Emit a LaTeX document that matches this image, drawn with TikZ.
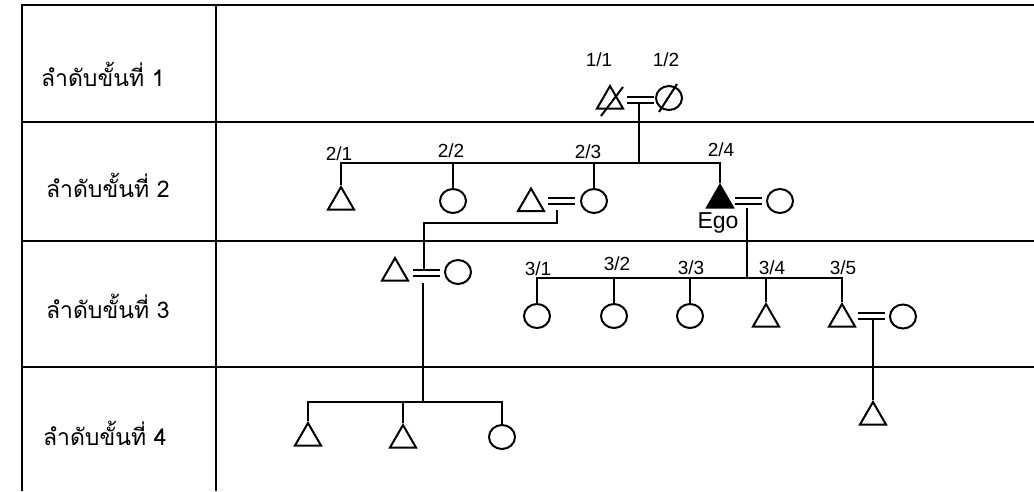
\documentclass[tikz,border=0pt]{standalone}
\usepackage{fontspec}
\setmainfont{Liberation Sans}
\newfontfamily\thaifont[Script=Thai]{Loma}
\usetikzlibrary{shapes.geometric}
\begin{document}
\begin{tikzpicture}[x=1pt,y=-1pt,line width=2pt,
  tri/.style={regular polygon,regular polygon sides=3,minimum size=30pt,inner sep=0pt,draw},
  ovl/.style={ellipse,minimum width=26pt,minimum height=24pt,inner sep=0pt,draw},
  lbl/.style={font=\fontsize{19}{21}\selectfont,inner sep=0pt},
  thl/.style={font=\thaifont\fontsize{23}{26}\selectfont,anchor=base west,inner sep=0pt},
  gridline/.style={line width=2.2pt},
  eqsign/.pic={\draw (-13.5,-3) -- (13.5,-3) (-13.5,3) -- (13.5,3);}]
\useasboundingbox (0,0) rectangle (1034,491);
% table
\draw[gridline] (22,491) -- (22,5) -- (1034,5);
\draw[gridline] (216,5) -- (216,491);
\draw[gridline] (22,122) -- (1034,122);
\draw[gridline] (22,241) -- (1034,241);
\draw[gridline] (22,367) -- (1034,367);
\node[thl] (r1) at (40,86) {ลำดับขั้นที่ 1};
\node[thl] (r2) at (45,197) {ลำดับขั้นที่ 2};
\node[thl] (r3) at (45,318) {ลำดับขั้นที่ 3};
\node[thl] (r4) at (42,445) {ลำดับขั้นที่ 4};
% generation 1
\node[tri] (t11) at (610,101) {};
\node[ovl] (c12) at (669,98) {};
\draw (601,116) -- (623,87);
\draw (659,112) -- (677,84);
\pic at (640.5,100) {eqsign};
\node[lbl] (l11) at (599,59.5) {1/1};
\node[lbl] (l12) at (666,59.5) {1/2};
% generation 2
\node[tri] (t21) at (341,202) {};
\node[ovl] (c22) at (453,201) {};
\node[ovl] (c23) at (594,201) {};
\node[tri] (t23s) at (531,203.5) {};
\pic at (561.5,201) {eqsign};
\node[tri,fill=black] (ego) at (720,200) {};
\node[font=\fontsize{23}{26}\selectfont,anchor=base,inner sep=0pt] (egol) at (718,228) {Ego};
\pic at (748.5,201) {eqsign};
\node[ovl] (cE) at (780,201) {};
\node[lbl] (l21) at (339,154) {2/1};
\node[lbl] (l22) at (451,151) {2/2};
\node[lbl] (l23) at (588,152) {2/3};
\node[lbl] (l24) at (721,150) {2/4};
\coordinate (m1) at (639,103);
\coordinate (b2) at (639,163);
\draw (m1) -- (b2);
\draw (t21.north) -- (t21.north |- b2) -- (ego.north |- b2) -- (ego.north);
\draw (c22.north) -- (c22.north |- b2);
\draw (c23.north) -- (c23.north |- b2);
% generation 3, left couple
\node[tri] (t3a) at (395,273) {};
\pic at (426,272.5) {eqsign};
\node[ovl] (c3a) at (458,272) {};
\coordinate (m23) at (557,210);
\coordinate (m3up) at (424,270);
\draw (m23) -- ++(0,13) -| (m3up);
% generation 3, Ego's children
\node[ovl] (c31) at (537,316) {};
\node[ovl] (c32) at (614,316) {};
\node[ovl] (c33) at (690,316) {};
\node[tri] (t34) at (766,319) {};
\node[tri] (t35) at (842,319) {};
\pic at (871,316) {eqsign};
\node[ovl] (c35s) at (903,316.5) {};
\node[lbl] (l31) at (538,269) {3/1};
\node[lbl] (l32) at (617,264) {3/2};
\node[lbl] (l33) at (691,268) {3/3};
\node[lbl] (l34) at (772,268) {3/4};
\node[lbl] (l35) at (843,268) {3/5};
\coordinate (mE) at (747,208);
\coordinate (b3) at (747,278);
\draw (mE) -- (b3);
\draw (c31.north) -- (c31.north |- b3) -- (t35.north |- b3) -- (t35.north);
\draw (c32.north) -- (c32.north |- b3);
\draw (c33.north) -- (c33.north |- b3);
\draw (t34.north) -- (t34.north |- b3);
% generation 4
\node[tri] (t41) at (308,438) {};
\node[tri] (t42) at (403,440) {};
\node[ovl] (c43) at (502,437) {};
\node[tri] (t4x) at (873,417) {};
\coordinate (m3a) at (423,283);
\coordinate (b4) at (423,402);
\draw (m3a) -- (b4);
\draw (t41.north) -- (t41.north |- b4) -- (c43.north |- b4) -- (c43.north);
\draw (t42.north) -- (t42.north |- b4);
\coordinate (m35) at (873,319);
\draw (m35) -- (t4x.north);
\end{tikzpicture}
\end{document}
